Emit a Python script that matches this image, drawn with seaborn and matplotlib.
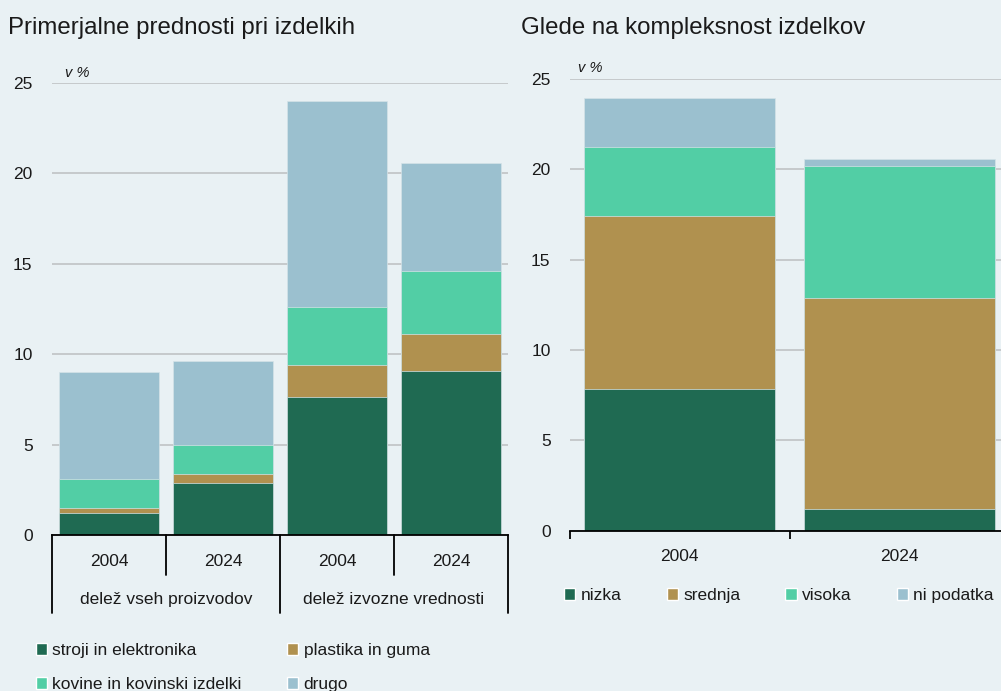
import numpy as np
import pandas as pd
import matplotlib.pyplot as plt
import seaborn as sns
from matplotlib.patches import Patch
import matplotlib.transforms as mtransforms

sns.set_theme(style="white")
plt.rcParams['font.family'] = ['Liberation Sans', 'DejaVu Sans']

# Data - left panel
left_groups = ["delež vseh proizvodov", "delež izvozne vrednosti"]
left_cats = ["vseh 2004", "vseh 2024", "izvoz 2004", "izvoz 2024"]
left_years = ["2004", "2024", "2004", "2024"]
left_series = ["stroji in elektronika", "plastika in guma", "kovine in kovinski izdelki", "drugo"]
stroji = [1.23, 2.86, 7.63, 9.09]
plastika = [0.24, 0.51, 1.76, 2.01]
kovine = [1.64, 1.62, 3.21, 3.50]
drugo = [5.92, 4.61, 11.37, 5.96]

# Data - right panel
right_years = ["2004", "2024"]
right_series = ["nizka", "srednja", "visoka", "ni podatka"]
nizka = [7.83, 1.22]
srednja = [9.57, 11.66]
visoka = [3.81, 7.30]
ni_podatka = [2.74, 0.39]

colors = ["#1f6a52", "#b0914f", "#52cea5", "#9bc0cf"]
bg = "#e9f1f4"
grid_c = "#c3c6c8"
fs = 12.5


def stacked(ax, cats, layers):
    df = pd.DataFrame(np.array(layers).T, index=cats).cumsum(axis=1)
    # draw from the top layer down so each lower layer covers the one above
    for i in reversed(range(len(layers))):
        sns.barplot(x=cats, y=df[i].values, order=cats, color=colors[i],
                    saturation=1, width=0.87, errorbar=None, ax=ax,
                    edgecolor="#d5e3e8", linewidth=0.5, zorder=2)
    ax.set_xlim(-0.5, len(cats) - 0.5)
    ax.set_ylim(0, 25)
    ax.set_yticks(range(0, 26, 5))
    ax.set_xlabel("")
    ax.set_ylabel("")
    ax.set_facecolor(bg)
    ax.yaxis.grid(True, color=grid_c, lw=1.3, zorder=0)
    ax.set_axisbelow(True)
    for s in ["left", "right", "top"]:
        ax.spines[s].set_visible(False)
    ax.spines["bottom"].set_color("black")
    ax.spines["bottom"].set_linewidth(1.3)
    ax.tick_params(axis="y", length=0, pad=14, labelsize=fs, colors="#1a1a1a")


fig = plt.figure(figsize=(10.01, 6.91), dpi=100, facecolor=bg)

# Left panel
ax1 = fig.add_axes([52 / 1001, 156 / 691, 456 / 1001, 452.3 / 691])
stacked(ax1, left_cats, [stroji, plastika, kovine, drugo])
ax1.set_xticks(range(len(left_cats)))
ax1.set_xticklabels(left_years)
ax1.tick_params(axis="x", length=0, pad=13.5, labelsize=fs, colors="#1a1a1a")
trans = mtransforms.blended_transform_factory(ax1.transData, ax1.transAxes)
for xb in [-0.5, 0.5, 1.5, 2.5, 3.5]:
    low = -0.1725 if xb in (-0.5, 1.5, 3.5) else -0.0884
    ax1.plot([xb, xb], [0, low], color="black", lw=1.3, transform=trans, clip_on=False)
for gi, g in enumerate(left_groups):
    ax1.text(0.5 + 2 * gi, -0.1415, g, transform=trans, ha="center", va="center",
             fontsize=fs, color="#1a1a1a")
ax1.text(0.028, 1.022, "v %", transform=ax1.transAxes, fontsize=10.5, style="italic",
         ha="left", va="center", color="#1a1a1a")

# Right panel
ax2 = fig.add_axes([570 / 1001, 160.3 / 691, 439 / 1001, 451.7 / 691])
stacked(ax2, right_years, [nizka, srednja, visoka, ni_podatka])
ax2.set_xticks(range(len(right_years)))
ax2.set_xticklabels(right_years)
ax2.set_xticks([-0.5, 0.5, 1.5], minor=True)
ax2.tick_params(axis="x", which="major", length=0, pad=13.5, labelsize=fs, colors="#1a1a1a")
ax2.tick_params(axis="x", which="minor", length=6, width=1.3, color="black", bottom=True)
ax2.text(0.018, 1.025, "v %", transform=ax2.transAxes, fontsize=10.5, style="italic",
         ha="left", va="center", color="#1a1a1a")

# Titles
fig.text(8 / 1001, 1 - 28 / 691, "Primerjalne prednosti pri izdelkih", fontsize=17.3,
         ha="left", va="center", color="#1a1a1a")
fig.text(521 / 1001, 1 - 28 / 691, "Glede na kompleksnost izdelkov", fontsize=17.3,
         ha="left", va="center", color="#1a1a1a")

# Legends
leg_kw = dict(frameon=False, fontsize=fs, handlelength=0.65, handleheight=0.65,
              handletextpad=0.3, columnspacing=2.6, borderpad=0, borderaxespad=0,
              labelcolor="#1a1a1a")
lh = [Patch(facecolor=colors[i], label=left_series[i]) for i in [0, 2, 1, 3]]
fig.legend(handles=lh, ncol=2, loc="upper left", labelspacing=1.1,
           bbox_to_anchor=(36 / 1001, 1 - 643 / 691), **leg_kw)
rh = [Patch(facecolor=colors[i], label=right_series[i]) for i in range(4)]
fig.legend(handles=rh, ncol=4, loc="upper left",
           bbox_to_anchor=(564 / 1001, 1 - 588 / 691), **leg_kw)

fig.savefig("out.png", dpi=100, facecolor=bg)
